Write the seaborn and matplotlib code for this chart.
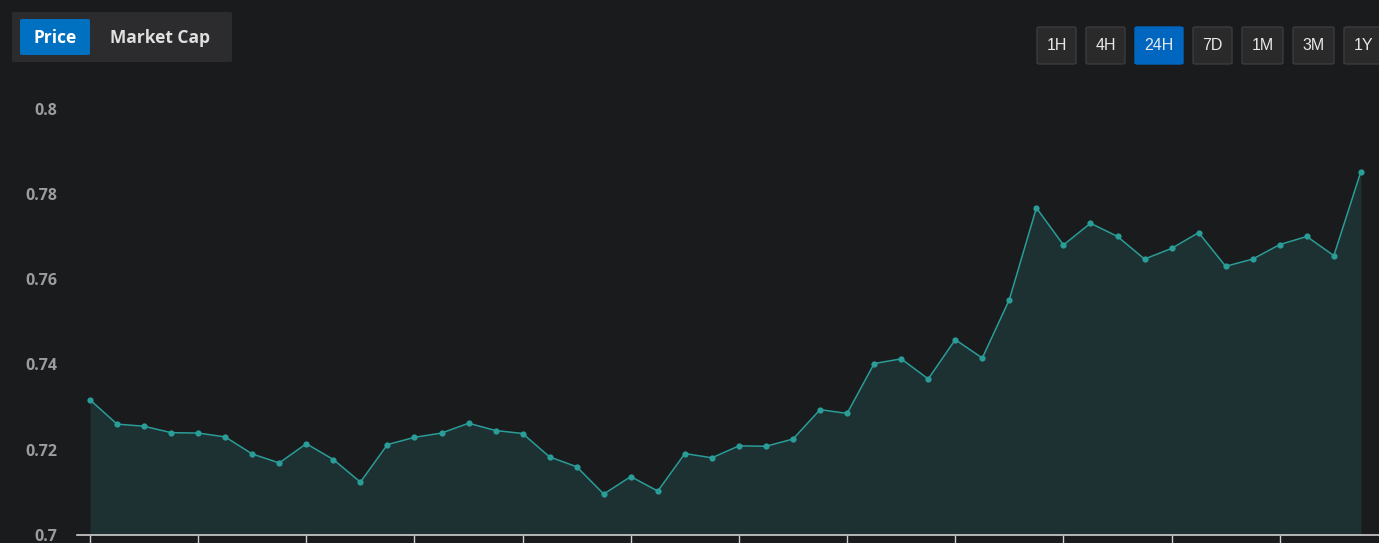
import numpy as np
import pandas as pd
import matplotlib.pyplot as plt
import seaborn as sns
from matplotlib.patches import FancyBboxPatch

# price values (48 samples)
prices = [0.7317, 0.7260, 0.7255, 0.7240, 0.7239, 0.7230, 0.7190, 0.7169,
          0.7214, 0.7177, 0.7124, 0.7212, 0.7229, 0.7239, 0.7262, 0.7245,
          0.7238, 0.7183, 0.7160, 0.7096, 0.7137, 0.7103, 0.7191, 0.7181,
          0.7209, 0.7208, 0.7225, 0.7294, 0.7285, 0.7402, 0.7413, 0.7366,
          0.7458, 0.7415, 0.7552, 0.7767, 0.7680, 0.7731, 0.7700, 0.7647,
          0.7672, 0.7709, 0.7630, 0.7647, 0.7681, 0.7700, 0.7655, 0.7852]
y_ticks = [0.7, 0.72, 0.74, 0.76, 0.78, 0.8]
y_tick_labels = ["0.7", "0.72", "0.74", "0.76", "0.78", "0.8"]
tabs = ["Price", "Market Cap"]
ranges = ["1H", "4H", "24H", "7D", "1M", "3M", "1Y"]
active_range = "24H"

df = pd.DataFrame({"step": np.arange(len(prices)), "price": prices})

bg = "#1a1b1d"
teal = "#2a9d98"
W, H = 1379, 543

sns.set_theme(style="dark", rc={"figure.facecolor": bg, "axes.facecolor": bg,
                                "axes.edgecolor": bg, "savefig.facecolor": bg})

fig = plt.figure(figsize=(W / 100, H / 100), dpi=100)
ax = fig.add_axes([77 / W, 1 - 535 / H, 1 - 77 / W, (535 - 100) / H])

ax.fill_between(df["step"], df["price"], 0.7, color="#1d3032", linewidth=0, zorder=1)
sns.lineplot(data=df, x="step", y="price", ax=ax, color=teal, linewidth=1.1,
             marker="o", markersize=4.5, markeredgewidth=0, zorder=3)

ax.set_xlim(-0.48, 47.67)
ax.set_ylim(0.7, 0.802)
ax.set_xlabel("")
ax.set_ylabel("")

ax.set_yticks(y_ticks)
ax.set_yticklabels(y_tick_labels, fontfamily="Open Sans", fontweight="bold",
                   fontsize=11.5, color="#9c9c9c")
ax.tick_params(axis="y", length=0, pad=14)
for lab in ax.get_yticklabels():
    lab.set_clip_on(False)

ax.set_xticks(df["step"][::4])
ax.set_xticklabels([""] * len(df["step"][::4]))
ax.tick_params(axis="x", length=9, width=1, color="#cfcfcf", direction="out", bottom=True)

for side in ["top", "right", "left"]:
    ax.spines[side].set_visible(False)
ax.spines["bottom"].set_color("#cfcfcf")
ax.spines["bottom"].set_linewidth(1.2)
ax.grid(False)


def box(x0, y0, x1, y1, fc, ec="none", r=3):
    fig.patches.append(FancyBboxPatch((x0 / W, 1 - y1 / H), (x1 - x0) / W, (y1 - y0) / H,
                                      boxstyle=f"round,pad=0,rounding_size={r / W}",
                                      transform=fig.transFigure, fc=fc, ec=ec, lw=1))


# tab switcher top left
box(12, 12, 232, 62, "#2c2c2e")
box(20, 19, 90, 55, "#0070c0")
fig.text(55 / W, 1 - 38 / H, tabs[0], color="white", fontsize=12.5, fontweight="bold",
         fontfamily="Open Sans", ha="center", va="center")
fig.text(160 / W, 1 - 38 / H, tabs[1], color="#e0e0e0", fontsize=12.5, fontweight="bold",
         fontfamily="Open Sans", ha="center", va="center")

# time range buttons top right
btn_x = [(1037, 1076), (1086, 1125), (1135, 1183), (1193, 1232), (1242, 1283), (1293, 1334), (1344, 1384)]
for label, (x0, x1) in zip(ranges, btn_x):
    if label == active_range:
        box(x0, 27, x1, 64, "#0066c0", "#0066c0")
    else:
        box(x0, 27, x1, 64, "#2a2a2b", "#3c3c3e")
    fig.text((x0 + x1) / 2 / W, 1 - 46 / H, label, color="#e8e8e8", fontsize=11.5,
             fontfamily="Liberation Sans", ha="center", va="center")

fig.savefig("out.png", dpi=100)
